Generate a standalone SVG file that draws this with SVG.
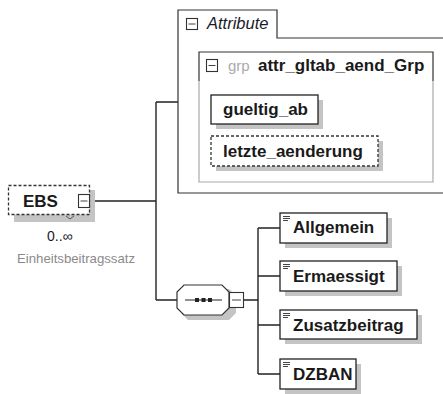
<svg xmlns="http://www.w3.org/2000/svg" width="443" height="394" viewBox="0 0 443 394">
<style>
.ln{stroke:#222;stroke-width:1.4;fill:none}
.box{fill:#fff;stroke:#222;stroke-width:1.3}
.dash{fill:#fff;stroke:#333;stroke-width:1.3;stroke-dasharray:3,2}
.sh{fill:#c4c4c4}
.t{font-family:"Liberation Sans",Arial,sans-serif;font-weight:bold;font-size:17px;fill:#1a1a1a}
.icon{fill:#fff;stroke:#333;stroke-width:1.1}
.lines{stroke:#444;stroke-width:1}
</style>
<rect width="443" height="394" fill="#fff"/>
<g id="connectors">
<path class="ln" d="M90 201H156M156 102V300M156 102H178M156 300H177M244 300H258M258 228V374M258 228H280M258 276H280M258 325H280M258 374H280"/>
</g>
<g id="attributes">
<path d="M178 38V193H446V38H277V10H178V38" fill="#fff" stroke="#333" stroke-width="1.2"/>
<rect class="icon" x="186.5" y="18.5" width="11" height="11"/>
<path class="lines" d="M188.5 24H195.5"/>
<text x="207" y="29" font-family="Liberation Sans,Arial,sans-serif" font-style="italic" font-size="16.5" fill="#1a1a2a">Attribute</text>
</g>
<g id="grp">
<path d="M199 81V182H433V81" fill="none" stroke="#aaa" stroke-width="1.2"/>
<path d="M199 81V52H433V81" fill="none" stroke="#333" stroke-width="1.2"/>
<rect class="icon" x="206.5" y="59.5" width="11" height="12"/>
<path class="lines" d="M208.5 65.5H215.5"/>
<text x="228" y="71" font-family="Liberation Sans,Arial,sans-serif" font-size="15" fill="#aaa">grp</text>
<text class="t" x="258" y="71">attr_gltab_aend_Grp</text>
</g>
<g id="gueltig_ab">
<rect class="sh" x="216" y="100" width="107" height="29"/>
<rect class="box" x="211" y="95" width="107" height="29"/>
<text class="t" x="223" y="115">gueltig_ab</text>
</g>
<g id="letzte_aenderung">
<rect class="sh" x="216" y="141" width="167" height="30"/>
<rect class="dash" x="211" y="136" width="167" height="30"/>
<text class="t" x="223" y="157">letzte_aenderung</text>
</g>
<g id="EBS">
<rect class="sh" x="14" y="190" width="81" height="32"/>
<rect class="dash" x="8.5" y="185.5" width="81" height="29"/>
<path d="M66 216l4 3 4-3" fill="none" stroke="#555" stroke-width="1"/>
<text class="t" x="23" y="207" font-size="14.5">EBS</text>
<rect class="icon" x="78.5" y="194.5" width="11" height="13"/>
<path class="lines" d="M80.5 201H87.5"/>
<text x="47" y="241" font-family="Liberation Sans,Arial,sans-serif" font-size="14" fill="#1a1a2a">0..∞</text>
<text x="17" y="263" font-family="Liberation Sans,Arial,sans-serif" font-size="13.2" fill="#8a8a8a">Einheitsbeitragssatz</text>
</g>
<g id="sequence">
<path class="sh" d="M188 289H229L236 296V313L229 320H188L181 313V296Z"/>
<path d="M184 285H222L229 292V308L222 315H184L177 308V292Z" fill="#fff" stroke="#333" stroke-width="1.2"/>
<path d="M185 300H222" stroke="#222" stroke-width="1.2"/>
<rect x="195" y="298" width="4" height="4" fill="#222"/>
<rect x="201.5" y="298" width="4" height="4" fill="#222"/>
<rect x="208" y="298" width="4" height="4" fill="#222"/>
<rect class="icon" x="229.5" y="292.5" width="14" height="15"/>
<path class="lines" d="M232 300H241"/>
</g>
<g id="Allgemein">
<rect class="sh" x="285" y="218" width="107" height="30"/>
<rect class="box" x="280" y="213" width="107" height="30"/>
<path class="lines" d="M283 216.5H290M283 218.5H290M283 220.5H288"/>
<text class="t" x="293" y="233">Allgemein</text>
</g>
<g id="Ermaessigt">
<rect class="sh" x="285" y="266" width="117" height="30"/>
<rect class="box" x="280" y="261" width="117" height="30"/>
<path class="lines" d="M283 264.5H290M283 266.5H290M283 268.5H288"/>
<text class="t" x="293" y="282">Ermaessigt</text>
</g>
<g id="Zusatzbeitrag">
<rect class="sh" x="285" y="315" width="137" height="29"/>
<rect class="box" x="280" y="310" width="137" height="29"/>
<path class="lines" d="M283 313.5H290M283 315.5H290M283 317.5H288"/>
<text class="t" x="293" y="331">Zusatzbeitrag</text>
</g>
<g id="DZBAN">
<rect class="sh" x="285" y="364" width="76" height="30"/>
<rect class="box" x="280" y="359" width="76" height="30"/>
<path class="lines" d="M283 362.5H290M283 364.5H290M283 366.5H288"/>
<text class="t" x="293" y="380">DZBAN</text>
</g>
</svg>
